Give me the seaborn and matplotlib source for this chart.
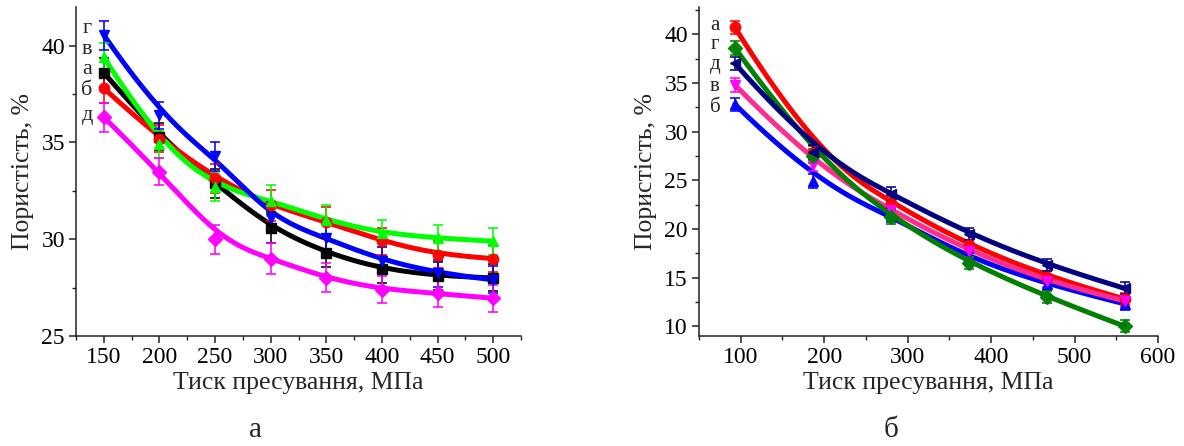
import numpy as np
import pandas as pd
import matplotlib
matplotlib.use("Agg")
import matplotlib.pyplot as plt
from matplotlib.ticker import MultipleLocator
import seaborn as sns

# ---- panel а: porosity vs pressing pressure ----
press_a = [150, 200, 250, 300, 350, 400, 450, 500]
labels_a = ["а", "б", "в", "г", "д"]
por_a_a = [38.6, 35.3, 32.9, 30.6, 29.3, 28.45, 28.1, 28.0]
por_a_b = [37.8, 35.2, 33.15, 31.75, 30.9, 29.9, 29.2, 29.0]
por_a_v = [39.4, 34.9, 32.7, 32.0, 31.0, 30.3, 30.05, 29.9]
por_a_g = [40.55, 36.4, 34.3, 31.1, 30.05, 28.9, 28.25, 27.9]
por_a_d = [36.3, 33.5, 30.0, 29.0, 28.0, 27.4, 27.2, 26.95]
err_a = [0.75, 0.7, 0.75, 0.8, 0.75, 0.7, 0.7, 0.7]

# ---- panel б ----
press_b = [93, 187, 280, 373, 467, 560]
labels_b = ["а", "б", "в", "г", "д"]
por_b_a = [40.7, 27.8, 22.7, 18.3, 15.1, 12.8]
por_b_b = [32.8, 24.9, 21.4, 16.9, 14.3, 12.3]
por_b_v = [34.8, 26.6, 21.9, 17.7, 14.6, 12.6]
por_b_g = [38.6, 27.5, 21.2, 16.5, 13.0, 10.0]
por_b_d = [37.0, 27.9, 23.6, 19.5, 16.3, 13.9]
err_b = [0.7, 0.7, 0.7, 0.6, 0.6, 0.6]

series_a = [por_a_a, por_a_b, por_a_v, por_a_g, por_a_d]
series_b = [por_b_a, por_b_b, por_b_v, por_b_g, por_b_d]

style_a = [  # line colour, marker colour, marker
    ("#000000", "#000000", "s"),
    ("#ff0000", "#ff0000", "o"),
    ("#00ff00", "#00ff00", "^"),
    ("#0000ff", "#0000ff", "v"),
    ("#ff00ff", "#ff00ff", "D"),
]
style_b = [
    ("#ff0000", "#ff0000", "o"),
    ("#0000ff", "#0000ff", "^"),
    ("#ff2d8f", "#ff00ff", "v"),
    ("#008000", "#008000", "D"),
    ("#000080", "#000080", "<"),
]


def bspline_curve(x, y, n=300, k=3):
    """Clamped cubic B-spline that uses the data points as control points."""
    P = np.column_stack([np.asarray(x, float), np.asarray(y, float)])
    m = len(P)
    inner = np.linspace(0, 1, m - k + 1)
    knots = np.concatenate([np.zeros(k), inner, np.ones(k)])
    t = np.linspace(0, 1, n)
    t[-1] = 1 - 1e-12
    # Cox–de Boor recursion
    B = np.zeros((n, len(knots) - 1))
    for i in range(len(knots) - 1):
        B[:, i] = (t >= knots[i]) & (t < knots[i + 1])
    for d in range(1, k + 1):
        Bn = np.zeros((n, len(knots) - 1 - d))
        for i in range(len(knots) - 1 - d):
            a = knots[i + d] - knots[i]
            b = knots[i + d + 1] - knots[i + 1]
            term = np.zeros(n)
            if a > 0:
                term += (t - knots[i]) / a * B[:, i]
            if b > 0:
                term += (knots[i + d + 1] - t) / b * B[:, i + 1]
            Bn[:, i] = term
        B = Bn
    C = B @ P
    return C[:, 0], C[:, 1]


sns.set_theme(style="ticks")
plt.rcParams["font.family"] = ["Liberation Serif", "DejaVu Serif"]

fig = plt.figure(figsize=(11.84, 4.46), dpi=100)
ax1 = fig.add_axes([76 / 1184, 110 / 446, 445 / 1184, 329 / 446])
ax2 = fig.add_axes([699 / 1184, 110 / 446, 459 / 1184, 329 / 446])


def draw_panel(ax, xvals, series, styles, errs):
    for ys, (lc, mc, mk) in zip(series, styles):
        xs, smooth = bspline_curve(xvals, ys)
        sns.lineplot(x=xs, y=smooth, ax=ax, color=lc, lw=3.6, sort=False,
                     legend=False, zorder=2)
        ax.errorbar(xvals, ys, yerr=errs, fmt=mk, color=mc, ms=7.5,
                    mec=mc, mfc=mc, ecolor=mc, elinewidth=1.2, capsize=3.5,
                    capthick=1.2, zorder=3, alpha=0.95)


draw_panel(ax1, press_a, series_a, style_a, err_a)
draw_panel(ax2, press_b, series_b, style_b, err_b)

tick_fs = 17
lab_fs = 18.5

# axes а
ax1.set_xlim(125, 525)
ax1.set_ylim(25, 42)
ax1.xaxis.set_major_locator(MultipleLocator(50))
ax1.xaxis.set_minor_locator(MultipleLocator(25))
ax1.yaxis.set_major_locator(MultipleLocator(5))
ax1.yaxis.set_minor_locator(MultipleLocator(2.5))

# axes б
ax2.set_xlim(50, 600)
ax2.set_ylim(9, 42.8)
ax2.xaxis.set_major_locator(MultipleLocator(100))
ax2.xaxis.set_minor_locator(MultipleLocator(50))
ax2.yaxis.set_major_locator(MultipleLocator(5))
ax2.yaxis.set_minor_locator(MultipleLocator(2.5))

for ax in (ax1, ax2):
    for s in ("top", "right"):
        ax.spines[s].set_visible(False)
    for s in ("left", "bottom"):
        ax.spines[s].set_linewidth(1.1)
        ax.spines[s].set_color("#222222")
    ax.tick_params(which="major", direction="out", length=5, width=1.1,
                   labelsize=tick_fs, colors="#222222", labelcolor="black",
                   pad=3)
    ax.tick_params(which="minor", direction="out", length=3, width=1.0,
                   colors="#222222")
    ax.set_xlabel("Тиск пресування, МПа", fontsize=lab_fs, labelpad=3)
    ax.set_ylabel("Пористість, %", fontsize=lab_fs, labelpad=5)

# curve letters beside the first points
for lab, yv in zip(["г", "в", "а", "б", "д"], [40.9, 39.78, 38.75, 37.7, 36.37]):
    ax1.text(135, yv, lab, fontsize=16, ha="center", va="center")
for lab, yv in zip(["а", "г", "д", "в", "б"], [40.86, 38.9, 36.85, 34.6, 32.5]):
    ax2.text(69, yv, lab, fontsize=15, ha="center", va="center")

fig.text(255 / 1184, 1 - 430 / 446, "а", fontsize=21, ha="center", va="center")
fig.text(891 / 1184, 1 - 430 / 446, "б", fontsize=21, ha="center", va="center")

fig.savefig("out.png", dpi=100, facecolor="white")
